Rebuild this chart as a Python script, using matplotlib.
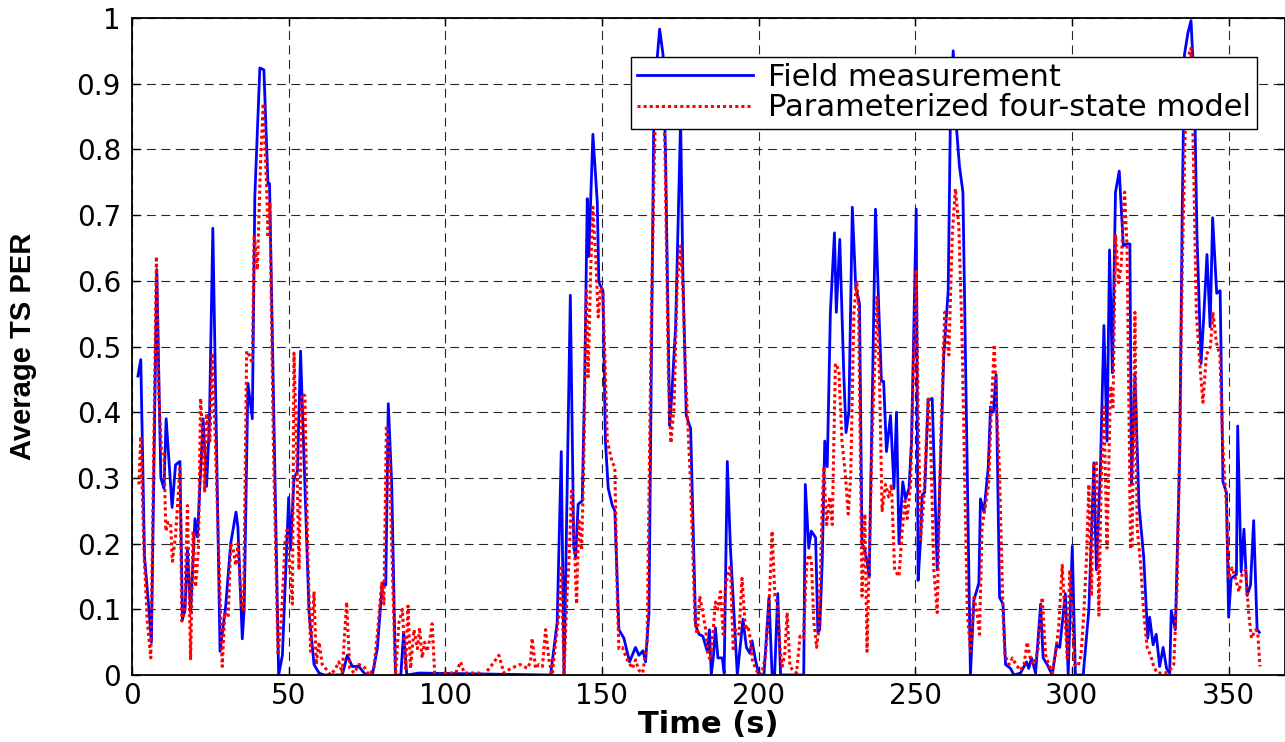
import matplotlib
matplotlib.use("Agg")
import matplotlib.pyplot as plt

field_t = [1.9, 2.8, 4.0, 5.4, 6.2, 7.9, 9.2, 10.2, 10.9, 12.8, 13.9, 15.3, 16.1, 16.9, 17.7, 18.7,
           20.1, 20.9, 22.7, 23.8, 24.7, 25.8, 28.1, 29.9, 31.5, 33.2, 33.8, 35.2, 35.8, 37.0, 38.4,
           39.2, 40.8, 42.1, 43.4, 43.9, 46.8, 48.0, 50.0, 50.6, 51.7, 52.8, 53.8, 56.5, 58.1, 59.7,
           61.3, 67.1, 68.7, 70.3, 72.4, 74.6, 76.7, 78.3, 79.9, 81.0, 81.8, 82.9, 84.1, 85.8, 86.7,
           87.7, 91.6, 133.6, 135.7, 137.0, 137.9, 139.9, 141.0, 141.6, 142.4, 143.7, 144.5, 145.3,
           145.8, 147.1, 148.5, 149.0, 150.3, 151.1, 152.0, 153.3, 154.1, 155.4, 157.0, 158.8, 160.7,
           161.8, 163.1, 163.9, 165.0, 166.6, 168.4, 169.5, 170.3, 171.6, 172.2, 173.5, 175.1, 175.8,
           176.9, 178.3, 179.9, 181.0, 182.2, 183.6, 184.3, 184.9, 185.6, 186.2, 187.0, 188.4, 189.0,
           190.0, 191.0, 193.2, 195.0, 196.1, 197.2, 197.9, 199.0, 200.1, 201.7, 203.3, 204.3, 205.1,
           206.1, 207.0, 214.4, 214.9, 216.0, 216.8, 218.2, 218.9, 219.5, 220.3, 221.1, 221.9, 222.9,
           224.2, 224.8, 225.9, 227.2, 227.9, 228.8, 229.9, 231.0, 232.2, 233.0, 233.9, 234.6, 235.3,
           237.3, 238.3, 239.2, 239.9, 240.8, 242.1, 243.2, 244.0, 244.8, 246.0, 246.9, 248.0, 248.8,
           250.3, 250.9, 251.7, 252.2, 253.0, 254.1, 255.4, 257.0, 259.1, 260.5, 261.2, 262.1, 263.1,
           264.1, 265.2, 267.6, 268.7, 270.3, 270.8, 271.9, 273.3, 274.0, 274.9, 275.8, 276.9, 278.0,
           278.8, 280.4, 281.5, 283.6, 285.5, 286.2, 287.1, 288.4, 290.0, 290.8, 292.1, 293.7, 295.1,
           296.1, 297.9, 298.8, 300.1, 301.1, 303.6, 305.4, 307.0, 307.8, 309.1, 310.2, 311.2, 312.0,
           312.9, 313.9, 315.1, 316.4, 317.4, 318.5, 319.0, 320.1, 321.4, 322.9, 324.2, 324.8, 325.9,
           326.9, 328.0, 329.1, 330.2, 331.2, 331.7, 333.0, 334.4, 335.2, 335.9, 337.0, 338.0, 339.1,
           339.9, 341.2, 342.0, 343.1, 344.1, 344.9, 346.2, 347.3, 348.2, 349.3, 350.0, 350.8, 351.7,
           352.5, 352.9, 354.0, 354.9, 355.9, 357.0, 358.0, 359.1, 359.8]
field_v = [0.455, 0.48, 0.18, 0.10, 0.05, 0.617, 0.30, 0.284, 0.39, 0.255, 0.32, 0.325, 0.085, 0.098,
           0.19, 0.095, 0.238, 0.21, 0.39, 0.287, 0.383, 0.68, 0.036, 0.105, 0.2, 0.248, 0.225, 0.055,
           0.10, 0.444, 0.39, 0.728, 0.924, 0.921, 0.748, 0.748, 0.0, 0.03, 0.27, 0.19, 0.30, 0.31,
           0.493, 0.095, 0.016, 0.003, 0.0, 0.0, 0.03, 0.013, 0.013, 0.0, 0.0, 0.04, 0.14, 0.137, 0.413,
           0.29, 0.0, 0.0, 0.065, 0.0, 0.003, 0.0, 0.08, 0.34, 0.0, 0.578, 0.193, 0.18, 0.26, 0.265,
           0.454, 0.725, 0.637, 0.823, 0.72, 0.598, 0.585, 0.356, 0.284, 0.258, 0.25, 0.069, 0.056,
           0.02, 0.042, 0.03, 0.037, 0.02, 0.095, 0.88, 0.983, 0.944, 0.79, 0.38, 0.42, 0.53, 0.846,
           0.617, 0.395, 0.375, 0.075, 0.062, 0.059, 0.036, 0.069, 0.0, 0.03, 0.072, 0.026, 0.026,
           0.003, 0.325, 0.193, 0.0, 0.085, 0.042, 0.033, 0.052, 0.023, 0.0, 0.0, 0.118, 0.0, 0.0,
           0.124, 0.0, 0.0, 0.29, 0.193, 0.219, 0.209, 0.065, 0.069, 0.173, 0.356, 0.317, 0.552, 0.673,
           0.552, 0.663, 0.454, 0.369, 0.40, 0.712, 0.59, 0.565, 0.2, 0.19, 0.173, 0.15, 0.709, 0.565,
           0.447, 0.447, 0.34, 0.395, 0.284, 0.40, 0.2, 0.294, 0.268, 0.284, 0.356, 0.709, 0.144, 0.206,
           0.274, 0.278, 0.418, 0.421, 0.16, 0.487, 0.585, 0.846, 0.95, 0.836, 0.774, 0.735, 0.0, 0.114,
           0.14, 0.268, 0.248, 0.317, 0.408, 0.40, 0.457, 0.118, 0.108, 0.016, 0.01, 0.0, 0.003, 0.02,
           0.01, 0.026, 0.003, 0.108, 0.026, 0.016, 0.0, 0.046, 0.042, 0.124, 0.0, 0.196, 0.0, 0.0, 0.10,
           0.323, 0.16, 0.317, 0.532, 0.356, 0.647, 0.46, 0.735, 0.767, 0.653, 0.656, 0.656, 0.29,
           0.457, 0.258, 0.18, 0.056, 0.088, 0.046, 0.062, 0.013, 0.042, 0.01, 0.003, 0.098, 0.069,
           0.336, 0.709, 0.944, 0.977, 0.996, 0.89, 0.67, 0.474, 0.539, 0.64, 0.53, 0.696, 0.581, 0.585,
           0.294, 0.278, 0.088, 0.147, 0.15, 0.153, 0.379, 0.157, 0.222, 0.121, 0.137, 0.235, 0.069,
           0.065]

# Parameterized four-state model (red dotted)
model_t = [2.2, 2.8, 3.8, 4.9, 6.0, 7.8, 8.6, 9.4, 10.2, 10.8, 11.5, 12.3, 12.9, 13.9, 15.3, 15.9,
           16.8, 17.7, 18.7, 19.5, 20.3, 21.2, 21.9, 22.5, 23.2, 23.8, 24.9, 25.6, 26.5, 28.8, 29.6,
           30.7, 31.5, 32.3, 33.1, 33.8, 35.0, 35.6, 36.6, 37.4, 38.4, 39.0, 40.0, 41.1, 41.9, 43.0,
           43.4, 44.0, 45.1, 45.8, 46.6, 47.8, 48.8, 49.6, 50.3, 51.2, 51.7, 52.5, 53.3, 54.2, 55.2,
           56.0, 57.0, 58.1, 58.8, 59.7, 60.7, 61.8, 63.4, 65.0, 66.0, 67.1, 68.5, 69.5, 70.9, 72.4,
           74.0, 75.6, 77.2, 78.3, 79.7, 80.4, 81.2, 82.0, 83.3, 84.1, 85.2, 86.3, 87.3, 88.1, 88.9,
           90.0, 91.1, 91.8, 92.6, 93.4, 94.2, 95.1, 95.8, 96.6, 98.0, 99.6, 101.7, 103.3, 104.9,
           106.0, 108.1, 110.7, 112.3, 114.5, 117.1, 118.7, 120.9, 122.4, 123.8, 125.1, 126.2, 127.2,
           127.7, 128.8, 129.9, 131.0, 132.0, 133.1, 134.1, 135.2, 136.3, 137.0, 137.9, 138.9, 139.4,
           140.3, 141.0, 141.9, 142.6, 143.5, 144.2, 145.0, 145.6, 146.4, 147.1, 148.0, 148.8, 149.6,
           150.3, 151.7, 153.3, 154.1, 154.9, 155.4, 156.5, 158.1, 159.7, 160.7, 161.8, 163.0, 164.4,
           165.8, 166.9, 167.9, 169.2, 170.1, 171.2, 172.0, 173.0, 174.0, 175.1, 175.8, 176.7, 178.3,
           179.7, 180.4, 181.2, 182.0, 183.1, 183.9, 184.6, 185.5, 186.2, 187.0, 187.8, 188.7, 189.4,
           190.2, 191.0, 191.9, 192.6, 193.7, 194.7, 195.8, 196.6, 197.3, 198.0, 199.0, 200.1, 201.1,
           202.2, 203.3, 204.3, 205.2, 206.0, 206.8, 207.5, 208.3, 209.1, 210.0, 211.0, 212.1, 213.2,
           214.3, 215.3, 216.0, 216.8, 217.6, 218.5, 219.2, 220.3, 220.8, 221.7, 222.7, 223.5, 224.5,
           225.6, 226.6, 227.7, 228.6, 229.4, 230.4, 231.3, 231.9, 232.5, 233.0, 233.9, 234.6, 236.2,
           237.8, 238.6, 239.4, 240.5, 241.5, 242.4, 243.4, 244.8, 245.8, 246.7, 247.4, 248.5, 249.5,
           250.3, 250.9, 251.7, 252.7, 253.5, 254.1, 254.9, 255.9, 257.0, 258.1, 259.4, 260.7, 261.8,
           262.8, 263.9, 264.9, 266.6, 267.6, 268.7, 269.7, 270.5, 271.3, 272.4, 273.4, 274.3, 275.2,
           276.1, 276.9, 278.0, 278.6, 279.9, 281.0, 282.1, 283.5, 284.7, 285.7, 286.8, 287.8, 289.1,
           290.5, 291.6, 292.6, 293.7, 294.7, 295.8, 296.9, 297.7, 298.5, 299.3, 300.1, 300.8, 301.9,
           302.9, 303.8, 304.6, 305.4, 306.2, 307.0, 307.8, 308.6, 309.3, 310.2, 311.2, 312.3, 313.1,
           313.9, 314.9, 315.7, 316.8, 317.6, 318.7, 319.2, 320.1, 320.8, 321.9, 322.9, 324.0, 325.1,
           326.1, 327.2, 328.5, 329.8, 331.2, 332.5, 333.6, 334.4, 335.2, 336.2, 337.3, 338.0, 338.9,
           339.7, 340.8, 341.8, 342.9, 344.2, 345.0, 346.1, 347.2, 348.2, 349.3, 350.0, 351.1, 352.2,
           353.3, 354.3, 355.4, 356.4, 357.3, 358.6, 359.3, 360.0]
model_v = [0.29, 0.363, 0.19, 0.08, 0.026, 0.637, 0.42, 0.343, 0.336, 0.219, 0.232, 0.232, 0.173,
           0.212, 0.314, 0.082, 0.10, 0.258, 0.023, 0.219, 0.134, 0.193, 0.421, 0.37, 0.278, 0.398,
           0.356, 0.49, 0.369, 0.013, 0.095, 0.088, 0.2, 0.19, 0.167, 0.2, 0.1, 0.1, 0.493, 0.487,
           0.474, 0.67, 0.617, 0.79, 0.87, 0.74, 0.666, 0.72, 0.356, 0.2, 0.03, 0.095, 0.2, 0.225,
           0.167, 0.108, 0.49, 0.356, 0.16, 0.428, 0.425, 0.206, 0.036, 0.127, 0.016, 0.05, 0.016,
           0.01, 0.0, 0.01, 0.02, 0.003, 0.111, 0.01, 0.003, 0.016, 0.013, 0.0, 0.01, 0.062, 0.14,
           0.108, 0.38, 0.35, 0.127, 0.0, 0.08, 0.10, 0.01, 0.105, 0.01, 0.069, 0.04, 0.072, 0.026,
           0.05, 0.036, 0.056, 0.078, 0.003, 0.0, 0.003, 0.003, 0.003, 0.02, 0.003, 0.003, 0.003, 0.0,
           0.013, 0.03, 0.003, 0.01, 0.013, 0.016, 0.013, 0.01, 0.02, 0.056, 0.01, 0.016, 0.013, 0.069,
           0.023, 0.0, 0.05, 0.095, 0.167, 0.003, 0.13, 0.167, 0.28, 0.225, 0.108, 0.238, 0.19, 0.327,
           0.585, 0.454, 0.617, 0.712, 0.637, 0.545, 0.59, 0.585, 0.356, 0.323, 0.317, 0.114, 0.04,
           0.042, 0.023, 0.01, 0.023, 0.007, 0.003, 0.05, 0.565, 0.826, 0.93, 0.91, 0.806, 0.454, 0.353,
           0.408, 0.597, 0.653, 0.59, 0.454, 0.29, 0.08, 0.062, 0.12, 0.10, 0.069, 0.03, 0.023, 0.069,
           0.111, 0.1, 0.127, 0.062, 0.134, 0.153, 0.167, 0.036, 0.069, 0.062, 0.147, 0.069, 0.075,
           0.056, 0.023, 0.01, 0.0, 0.003, 0.03, 0.1, 0.219, 0.12, 0.108, 0.042, 0.013, 0.03, 0.095,
           0.013, 0.007, 0.003, 0.059, 0.056, 0.167, 0.183, 0.176, 0.082, 0.042, 0.069, 0.258, 0.317,
           0.229, 0.271, 0.229, 0.474, 0.464, 0.356, 0.304, 0.245, 0.304, 0.552, 0.6, 0.56, 0.317,
           0.12, 0.245, 0.036, 0.356, 0.575, 0.447, 0.25, 0.29, 0.271, 0.29, 0.16, 0.15, 0.219, 0.265,
           0.238, 0.29, 0.487, 0.617, 0.408, 0.206, 0.265, 0.356, 0.42, 0.356, 0.16, 0.095, 0.356,
           0.552, 0.487, 0.67, 0.74, 0.683, 0.52, 0.095, 0.036, 0.118, 0.095, 0.062, 0.225, 0.258,
           0.29, 0.408, 0.503, 0.395, 0.304, 0.095, 0.03, 0.016, 0.026, 0.016, 0.007, 0.016, 0.05,
           0.023, 0.016, 0.036, 0.118, 0.03, 0.016, 0.003, 0.03, 0.075, 0.167, 0.095, 0.026, 0.16,
           0.095, 0.016, 0.013, 0.03, 0.095, 0.173, 0.29, 0.12, 0.323, 0.323, 0.091, 0.29, 0.408,
           0.193, 0.44, 0.408, 0.67, 0.597, 0.624, 0.735, 0.65, 0.193, 0.193, 0.552, 0.225, 0.17,
           0.095, 0.042, 0.03, 0.013, 0.003, 0.003, 0.003, 0.007, 0.016, 0.14, 0.356, 0.617, 0.84,
           0.944, 0.954, 0.76, 0.552, 0.474, 0.415, 0.487, 0.5, 0.552, 0.506, 0.487, 0.343, 0.258,
           0.147, 0.163, 0.147, 0.127, 0.153, 0.16, 0.095, 0.056, 0.069, 0.065, 0.013]

x_ticks = [0, 50, 100, 150, 200, 250, 300, 350]
y_ticks = [0, 0.1, 0.2, 0.3, 0.4, 0.5, 0.6, 0.7, 0.8, 0.9, 1]
y_tick_labels = ["0", "0.1", "0.2", "0.3", "0.4", "0.5", "0.6", "0.7", "0.8", "0.9", "1"]

fig = plt.figure(figsize=(12.85, 7.42), dpi=100)
ax = fig.add_axes([132 / 1285, 67 / 742, 1153 / 1285, 657 / 742])

ax.plot(field_t, field_v, color="#0000ff", lw=2, label="Field measurement")
ax.plot(model_t, model_v, color="#ff0000", lw=2.2, ls=(0, (1, 1)),
        label="Parameterized four-state model")

ax.set_xlim(0, 368)
ax.set_ylim(0, 1)
ax.set_xticks(x_ticks)
ax.set_yticks(y_ticks)
ax.set_yticklabels(y_tick_labels)
ax.tick_params(direction="in", top=True, right=True, length=6, width=1,
               labelsize=20, pad=8)
ax.tick_params(axis="x", pad=5)
ax.grid(True, color="0.15", lw=0.8, ls=(0, (8, 5)))
for s in ax.spines.values():
    s.set_linewidth(1.3)

ax.set_xlabel("Time (s)", fontsize=22, fontweight="bold", labelpad=0)
ax.set_ylabel("Average TS PER", fontsize=21, fontweight="bold",
              family=["Liberation Sans", "DejaVu Sans"])
ax.yaxis.set_label_coords(-0.082, 0.5)

leg = ax.legend(loc="upper right", bbox_to_anchor=(0.976, 0.941), fontsize=22,
                fancybox=False, edgecolor="black", framealpha=1, handlelength=3.8,
                borderpad=0.2, labelspacing=0.05, handletextpad=0.5, borderaxespad=0)
leg.get_frame().set_linewidth(1)

plt.savefig("out.png", dpi=100)
